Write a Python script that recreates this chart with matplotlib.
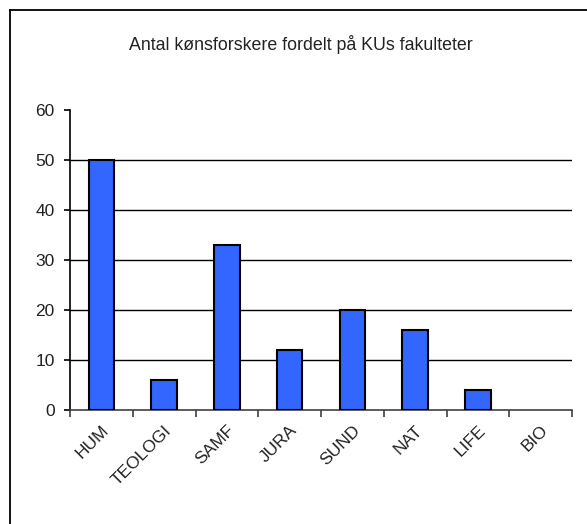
import matplotlib
matplotlib.use("Agg")
import matplotlib.pyplot as plt
from matplotlib.lines import Line2D

categories = ["HUM", "TEOLOGI", "SAMF", "JURA", "SUND", "NAT", "LIFE", "BIO"]
values = [50, 6, 33, 12, 20, 16, 4, 0]
yticks = [0, 10, 20, 30, 40, 50, 60]
title = "Antal kønsforskere fordelt på KUs fakulteter"

plt.rcParams['font.family'] = ['Liberation Sans', 'DejaVu Sans']

fig = plt.figure(figsize=(5.87, 5.24), dpi=100)
ax = fig.add_axes([70/587, 1-410/524, (572-70)/587, 300/524])

x = list(range(len(categories)))
edge_widths = [1.5 if v > 0 else 0 for v in values]
ax.bar(x, values, width=0.41, color="#3366FF", edgecolor="black", linewidth=edge_widths, zorder=3)

ax.set_xlim(-0.5, len(categories) - 0.5)
ax.set_ylim(0, 60)
ax.set_yticks(yticks)
ax.set_yticklabels([str(v) for v in yticks], fontsize=12.5, color="#222222")
for v in yticks[1:-1]:
    ax.axhline(v, color="black", linewidth=1.0, zorder=1)

ax.set_xticks([i - 0.5 for i in range(len(categories) + 1)])
ax.set_xticklabels([])
ax.set_xticks(x, minor=True)
ax.set_xticklabels(categories, minor=True, rotation=45, ha="right", va="top",
                   fontsize=12.5, rotation_mode="anchor", color="#222222")
ax.tick_params(axis="x", which="minor", length=0, pad=9)
ax.tick_params(axis="x", which="major", length=5, width=1.2, color="#404040", direction="out")
ax.tick_params(axis="y", length=4, width=1.2, direction="out", pad=7)

for s in ["top", "right"]:
    ax.spines[s].set_visible(False)
ax.spines["left"].set_linewidth(1.2)
ax.spines["bottom"].set_linewidth(1.2)
ax.spines["bottom"].set_color("#404040")

fig.text(301/587, 1-44/524, title, ha="center", va="center", fontsize=12.8, color="#222222")

fig.add_artist(Line2D([10/587, 10/587], [0, 1-10/524], transform=fig.transFigure, color="black", linewidth=1.3))
fig.add_artist(Line2D([10/587, 1], [1-10/524, 1-10/524], transform=fig.transFigure, color="black", linewidth=1.3))

fig.savefig("out.png", dpi=100)
